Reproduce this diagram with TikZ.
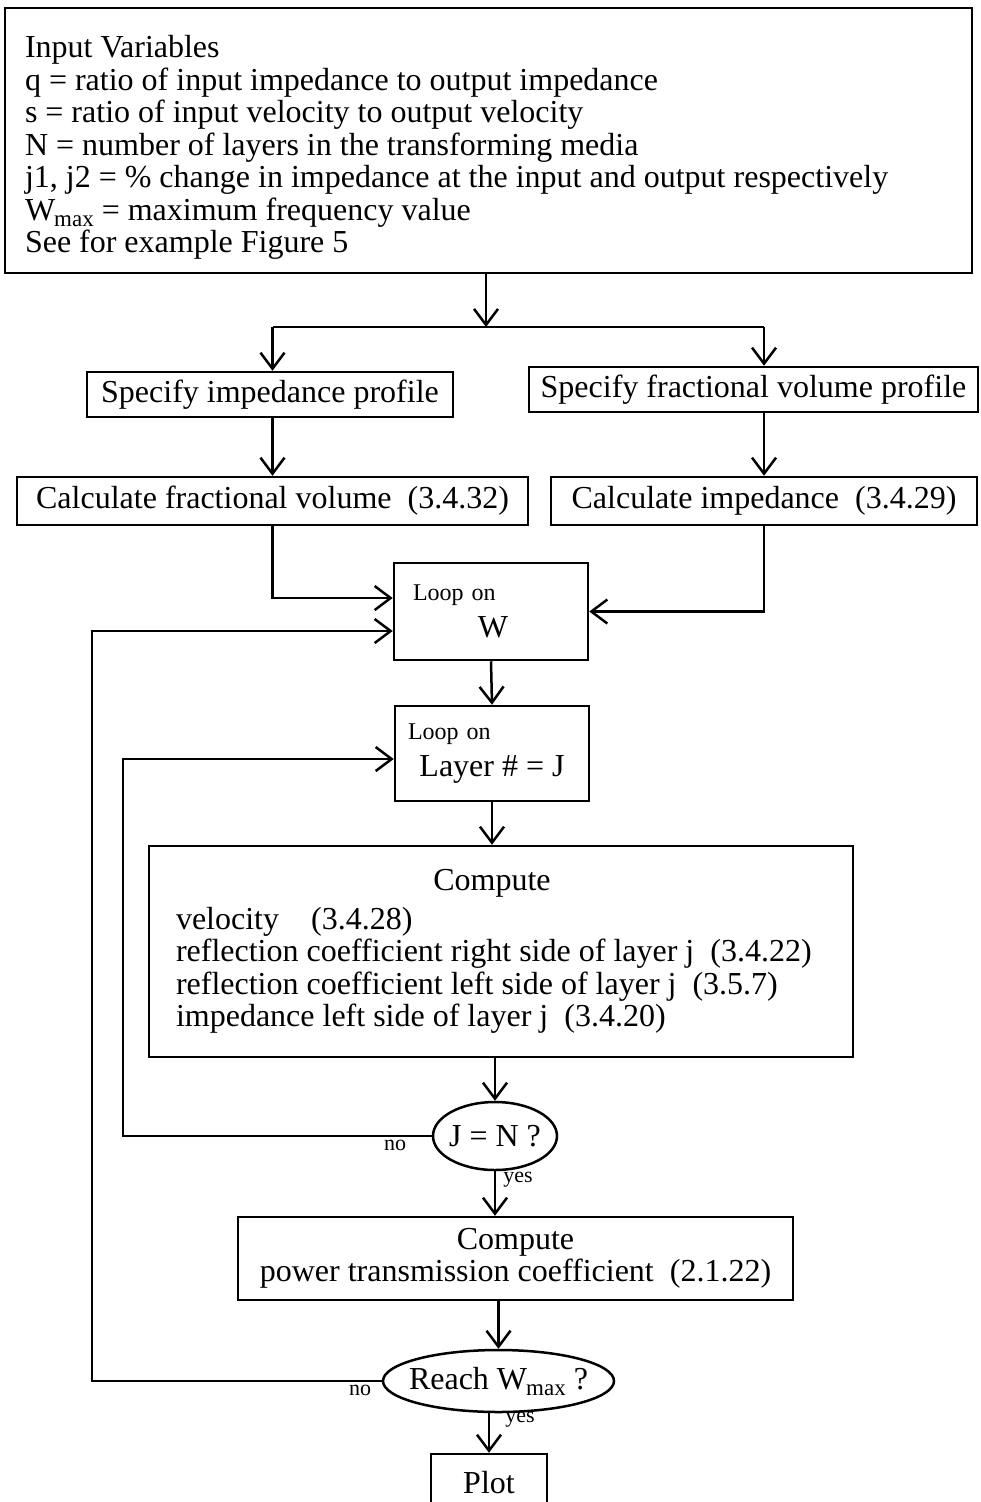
\documentclass[tikz,border=0pt]{standalone}
\usepackage{fontspec}
\setmainfont{Liberation Serif}
\usetikzlibrary{arrows.meta,shapes.geometric,calc}
\newcommand{\Wmx}{W\kern-1pt\raisebox{-6pt}{\fontsize{23}{23}\selectfont max}}
\newcommand{\lpfont}{\fontsize{24}{24}\selectfont}
\newcommand{\tsp}{\spaceskip=0.25em plus 0.1em minus 0.05em\relax}

\begin{document}
\begin{tikzpicture}[x=1pt,y=-1pt,>={Straight Barb[length=16pt,width=24pt]},
  every node/.style={font=\fontsize{32}{32.5}\selectfont},
  box/.style={draw,line width=2.5pt,inner sep=0pt},
  test/.style={draw,ellipse,line width=2.5pt,inner xsep=-15pt,inner ysep=0pt},
  flow/.style={line width=2.5pt,->},
  lbl/.style={font=\fontsize{22}{22}\selectfont,inner sep=0pt}]
  \useasboundingbox (0,0) rectangle (980,1502);
  % boxes
  \node[box,minimum width=967pt,minimum height=265pt,text width=927pt,align=left] (inp) at (488.5,140.5)
    {\tsp\rule{0pt}{36pt}Input Variables\\
     q = ratio of input impedance to output impedance\\
     s = ratio of input velocity to output velocity\\
     N = number of layers in the transforming media\\
     j1, j2 = \% change in impedance at the input and output respectively\\
     \Wmx{} = maximum frequency value\\
     See for example Figure 5};
  \node[box,minimum width=366pt,minimum height=45pt] (spimp) at (270,394.5) {Specify impedance profile};
  \node[box,minimum width=449pt,minimum height=45pt] (spvol) at (753.5,389.5) {Specify fractional volume profile};
  \node[box,minimum width=511pt,minimum height=48pt] (cfv) at (272.5,501) {Calculate fractional volume\ \ (3.4.32)};
  \node[box,minimum width=426pt,minimum height=48pt] (cimp) at (764,501) {Calculate impedance\ \ (3.4.29)};
  \node[box,minimum width=194pt,minimum height=97pt,inner xsep=19pt,text width=156pt,align=left] (loopw) at (491,611.5)
    {\tsp{\lpfont Loop on}\\[4pt]\makebox[160pt]{W}};
  \node[box,minimum width=194pt,minimum height=95pt,inner xsep=13pt,text width=168pt,align=left] (loopj) at (492,753.5)
    {\tsp{\lpfont Loop on}\\[4pt]\makebox[168pt]{Layer \# = J}};
  \node[box,minimum width=704pt,minimum height=211pt,inner xsep=27pt,text width=650pt,align=left] (comp) at (501,951.5)
    {\tsp\makebox[632pt]{Compute}\\[6pt]
     velocity\quad (3.4.28)\\
     reflection coefficient right side of layer j\ \ (3.4.22)\\
     reflection coefficient left side of layer j\ \ (3.5.7)\\
     impedance left side of layer j\ \ (3.4.20)};
  \node[test,minimum width=124pt,minimum height=68pt] (jn) at (495,1136) {J = N ?};
  \node[box,minimum width=555pt,minimum height=83pt,align=center] (comp2) at (515.5,1258.5)
    {Compute\\power transmission coefficient\ \ (2.1.22)};
  \node[test,minimum width=231pt,minimum height=62pt] (reach) at (498.5,1381) {Reach \Wmx\ ?};
  \node[box,minimum width=116pt,minimum height=58pt] (plot) at (489,1483) {Plot};
  % connectors
  \coordinate (spl) at (486,327);
  \coordinate (jback) at (123,1136);
  \coordinate (wback) at (92,1381);
  \draw[flow] (inp.south -| spl) -- (spl);
  \draw[line width=2.5pt] (spl -| cfv.north) -- (spl -| cimp.north);
  \draw[flow] (spl -| cfv.north) -- (spimp.north -| cfv.north);
  \draw[flow] (spl -| cimp.north) -- (spvol.north -| cimp.north);
  \draw[flow] (spimp.south -| cfv.north) -- (cfv.north);
  \draw[flow] (spvol.south -| cimp.north) -- (cimp.north);
  \draw[flow] (cfv.south) |- ([yshift=13.5pt]loopw.west);
  \draw[flow] (cimp.south) |- (loopw.east);
  \draw[flow] (loopw.south) -- (loopj.north);
  \draw[flow] (loopj.south) -- (loopj.south |- comp.north);
  \draw[flow] (jn.north |- comp.south) -- (jn.north);
  \draw[flow] (jn.west) -- (jback) |- ([yshift=-5.5pt]loopj.west);
  \draw[flow] (jn.south) -- (jn.south |- comp2.north);
  \draw[flow] (reach.north |- comp2.south) -- (reach.north);
  \draw[flow] (reach.west) -- (wback) |- ([yshift=-19.5pt]loopw.west);
  \draw[flow] (plot.north |- reach.south) -- (plot.north);
  % labels
  \node[lbl] (jno) at (395,1145) {no};
  \node[lbl] (jyes) at (518,1180) {yes};
  \node[lbl] (wno) at (360,1390) {no};
  \node[lbl] (wyes) at (520,1420) {yes};
\end{tikzpicture}
\end{document}
